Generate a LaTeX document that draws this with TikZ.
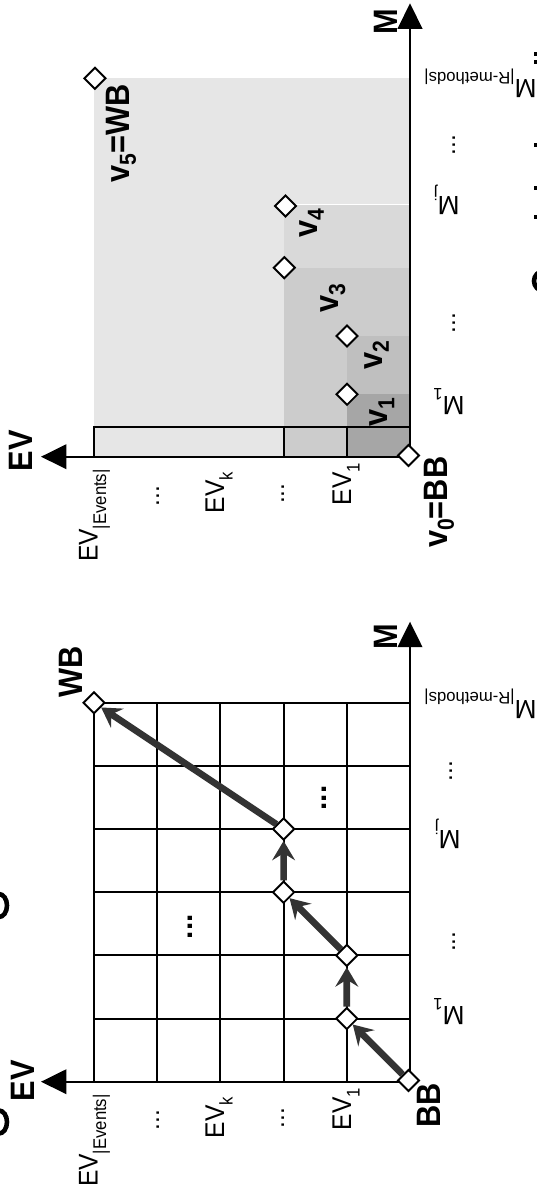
\documentclass[tikz,border=0pt]{standalone}
\usepackage{fontspec}
\setmainfont{Liberation Sans}
\usetikzlibrary{arrows.meta}
\definecolor{pathgray}{HTML}{333333}
\definecolor{gA}{HTML}{E6E6E6}
\definecolor{gB}{HTML}{D9D9D9}
\definecolor{gC}{HTML}{CCCCCC}
\definecolor{gD}{HTML}{BFBFBF}
\definecolor{gE}{HTML}{A6A6A6}
\newcommand\sbs[1]{\raisebox{-4.5pt}{\fontsize{9.5}{11}\selectfont #1}}
\newcommand\bsbs[1]{\raisebox{-3.5pt}{\fontsize{12}{14}\selectfont\bfseries #1}}
\tikzset{
  ax/.style={line width=1.15pt, -{Triangle[length=14.5pt,width=14pt]}},
  gridln/.style={line width=1.15pt, line cap=rect},
  dia/.style={draw, fill=white, line width=1.1pt, rotate=45, minimum size=8.5pt, inner sep=0pt, shape=rectangle},
  pth/.style={draw=pathgray, line width=3.8pt, -{Stealth[length=11pt,width=13pt,inset=4pt]}},
  blab/.style={font=\fontsize{17.5}{20}\selectfont\bfseries, inner sep=0pt},
  lab/.style={font=\fontsize{14}{16}\selectfont, inner sep=0pt},
  mlab/.style={font=\fontsize{15}{17}\selectfont, inner sep=0pt},
  bdots/.style={font=\fontsize{17}{20}\selectfont\bfseries, inner sep=0pt, rotate=90, anchor=base},
  ldots/.style={font=\fontsize{14}{16}\selectfont, inner sep=0pt, rotate=90, anchor=base},
  rl/.style={xscale=1.1, rotate=90, anchor=base west},
  rm/.style={rotate=180, anchor=base west},
  frag/.style={line width=2.6pt}
}
\begin{document}
\begin{tikzpicture}[x=0.02cm,y=-0.02cm]
\useasboundingbox (0,0) rectangle (537,1203);

% ================= upper diagram =================
\fill[gA] (94.2,78.3) rectangle (410,426.7);
\fill[gB] (284.3,204.7) rectangle (410,426.7);
\draw[white, line width=0.6pt] (284.3,204.7) -- (410,204.7);
\fill[gC] (284.3,267.7) rectangle (410,426.7);
\fill[gD] (347,336) rectangle (410,426.7);
\fill[gE] (347,394.3) rectangle (410,426.7);
\fill[gA] (94.2,426.7) rectangle (284.3,456.7);
\fill[gC] (284.3,426.7) rectangle (347,456.7);
\fill[gE] (347,426.7) rectangle (410,456.7);
\draw[gridln] (94.2,456.7) -- (94.2,426.7) -- (410,426.7);
\draw[gridln] (284.3,426.7) -- (284.3,456.7);
\draw[gridln] (347,426.7) -- (347,456.7);
\coordinate (uO) at (410,456.7);
\coordinate (uEV) at (41,456.7);
\coordinate (uM) at (410,3.3);
\draw[ax] (uO) -- (uEV);
\draw[ax] (uO) -- (uM);

\node[dia] (v0) at (408.5,455.5) {};
\node[dia] (v1) at (347,394.3) {};
\node[dia] (v2) at (347,336) {};
\node[dia] (v3) at (284.3,267.7) {};
\node[dia] (v4) at (285.5,206) {};
\node[dia] (v5) at (94.9,78.3) {};

\node[blab, rl] (lv0) at (447,548.3) {v\bsbs{0}=BB};
\node[blab, rl] (lv1) at (387.5,426.7) {v\bsbs{1}};
\node[blab, rl] (lv2) at (382,370) {v\bsbs{2}};
\node[blab, rl] (lv3) at (338.3,313) {v\bsbs{3}};
\node[blab, rl] (lv4) at (317,238) {v\bsbs{4}};
\node[blab, rl] (lv5) at (129,183) {v\bsbs{5}=WB};
\node[blab, rl] (uEVl) at (32.5,471.7) {EV};
\node[blab, rl] (uMl) at (397.3,35) {M};

\node[lab, rl] (uev1) at (351,505.7) {EV\sbs{1}};
\node[lab, rl] (uevk) at (224,513.7) {EV\sbs{k}};
\node[lab, rl] (uevn) at (97.5,562.2) {EV\sbs{|Events|}};
\node[ldots] (ud1) at (159,496.2) {...};
\node[ldots] (ud2) at (284,493.7) {...};

\node[mlab, rm] (um1) at (465,396.7) {M\sbs{1}};
\node[ldots] (umd1) at (455,323) {...};
\node[mlab, rm] (umj) at (460,196.7) {M\sbs{j}};
\node[ldots] (umd2) at (455,145) {...};
\node[mlab, rm] (umn) at (537,80) {M\sbs{|R-methods|}};

% ================= lower diagram =================
\foreach \x in {94,157.2,220.4,283.6,346.8} \draw[gridln] (\x,702.7) -- (\x,1081.7);
\foreach \y in {702.7,765.9,829,892.2,955.4,1018.5} \draw[gridln] (94,\y) -- (410,\y);
\coordinate (lO) at (410,1081.7);
\coordinate (lEV) at (41,1081.7);
\coordinate (lM) at (410,621.7);
\draw[ax] (lO) -- (lEV);
\draw[ax] (lO) -- (lM);

\node[bdots] (g1) at (326,798) {...};
\node[bdots] (g2) at (192.5,926.7) {...};

\node[dia] (L0) at (408.5,1080.5) {};
\node[dia] (L1) at (346.8,1018.5) {};
\node[dia] (L2) at (346.8,955.4) {};
\node[dia] (L3) at (283.6,892.2) {};
\node[dia] (L4) at (283.6,829) {};
\node[dia] (L5) at (94,702.7) {};
\draw[pth] (L0) -- (L1);
\draw[pth] (L1) -- (L2);
\draw[pth] (L2) -- (L3);
\draw[pth] (L3) -- (L4);
\draw[pth] (L4) -- (L5);

\node[blab, rl] (lBB) at (440,1128.3) {BB};
\node[blab, rl] (lWB) at (82,698) {WB};
\node[blab, rl] (lEVl) at (34,1101.7) {EV};
\node[blab, rl] (lMl) at (397,650) {M};

\node[lab, rl] (lev1) at (351,1130.7) {EV\sbs{1}};
\node[lab, rl] (levk) at (224,1138.7) {EV\sbs{k}};
\node[lab, rl] (levn) at (97.5,1187.2) {EV\sbs{|Events|}};
\node[ldots] (ld1) at (159,1120) {...};
\node[ldots] (ld2) at (284,1118) {...};

\node[mlab, rm] (lm1) at (465,1006.7) {M\sbs{1}};
\node[ldots] (lmd1) at (455,941.7) {...};
\node[mlab, rm] (lmj) at (461,830) {M\sbs{j}};
\node[ldots] (lmd2) at (452,771) {...};
\node[mlab, rm] (lmn) at (537,700) {M\sbs{|R-methods|}};

% ================= fragments of neighbouring figures at the edges =================
\draw[frag] (-1,905.5) ellipse [x radius=8, y radius=11.5];
\draw[frag] (-1,1122) ellipse [x radius=8, y radius=11.5];
\draw[frag] (544,281) ellipse [x radius=10, y radius=10];
\fill (533.5,52) rectangle (537,56);
\fill (533.5,60) rectangle (537,64);
\fill (533.5,143) rectangle (537,147);
\fill (533.5,186) rectangle (537,190);
\fill (533.5,215) rectangle (537,219);
\end{tikzpicture}
\end{document}
